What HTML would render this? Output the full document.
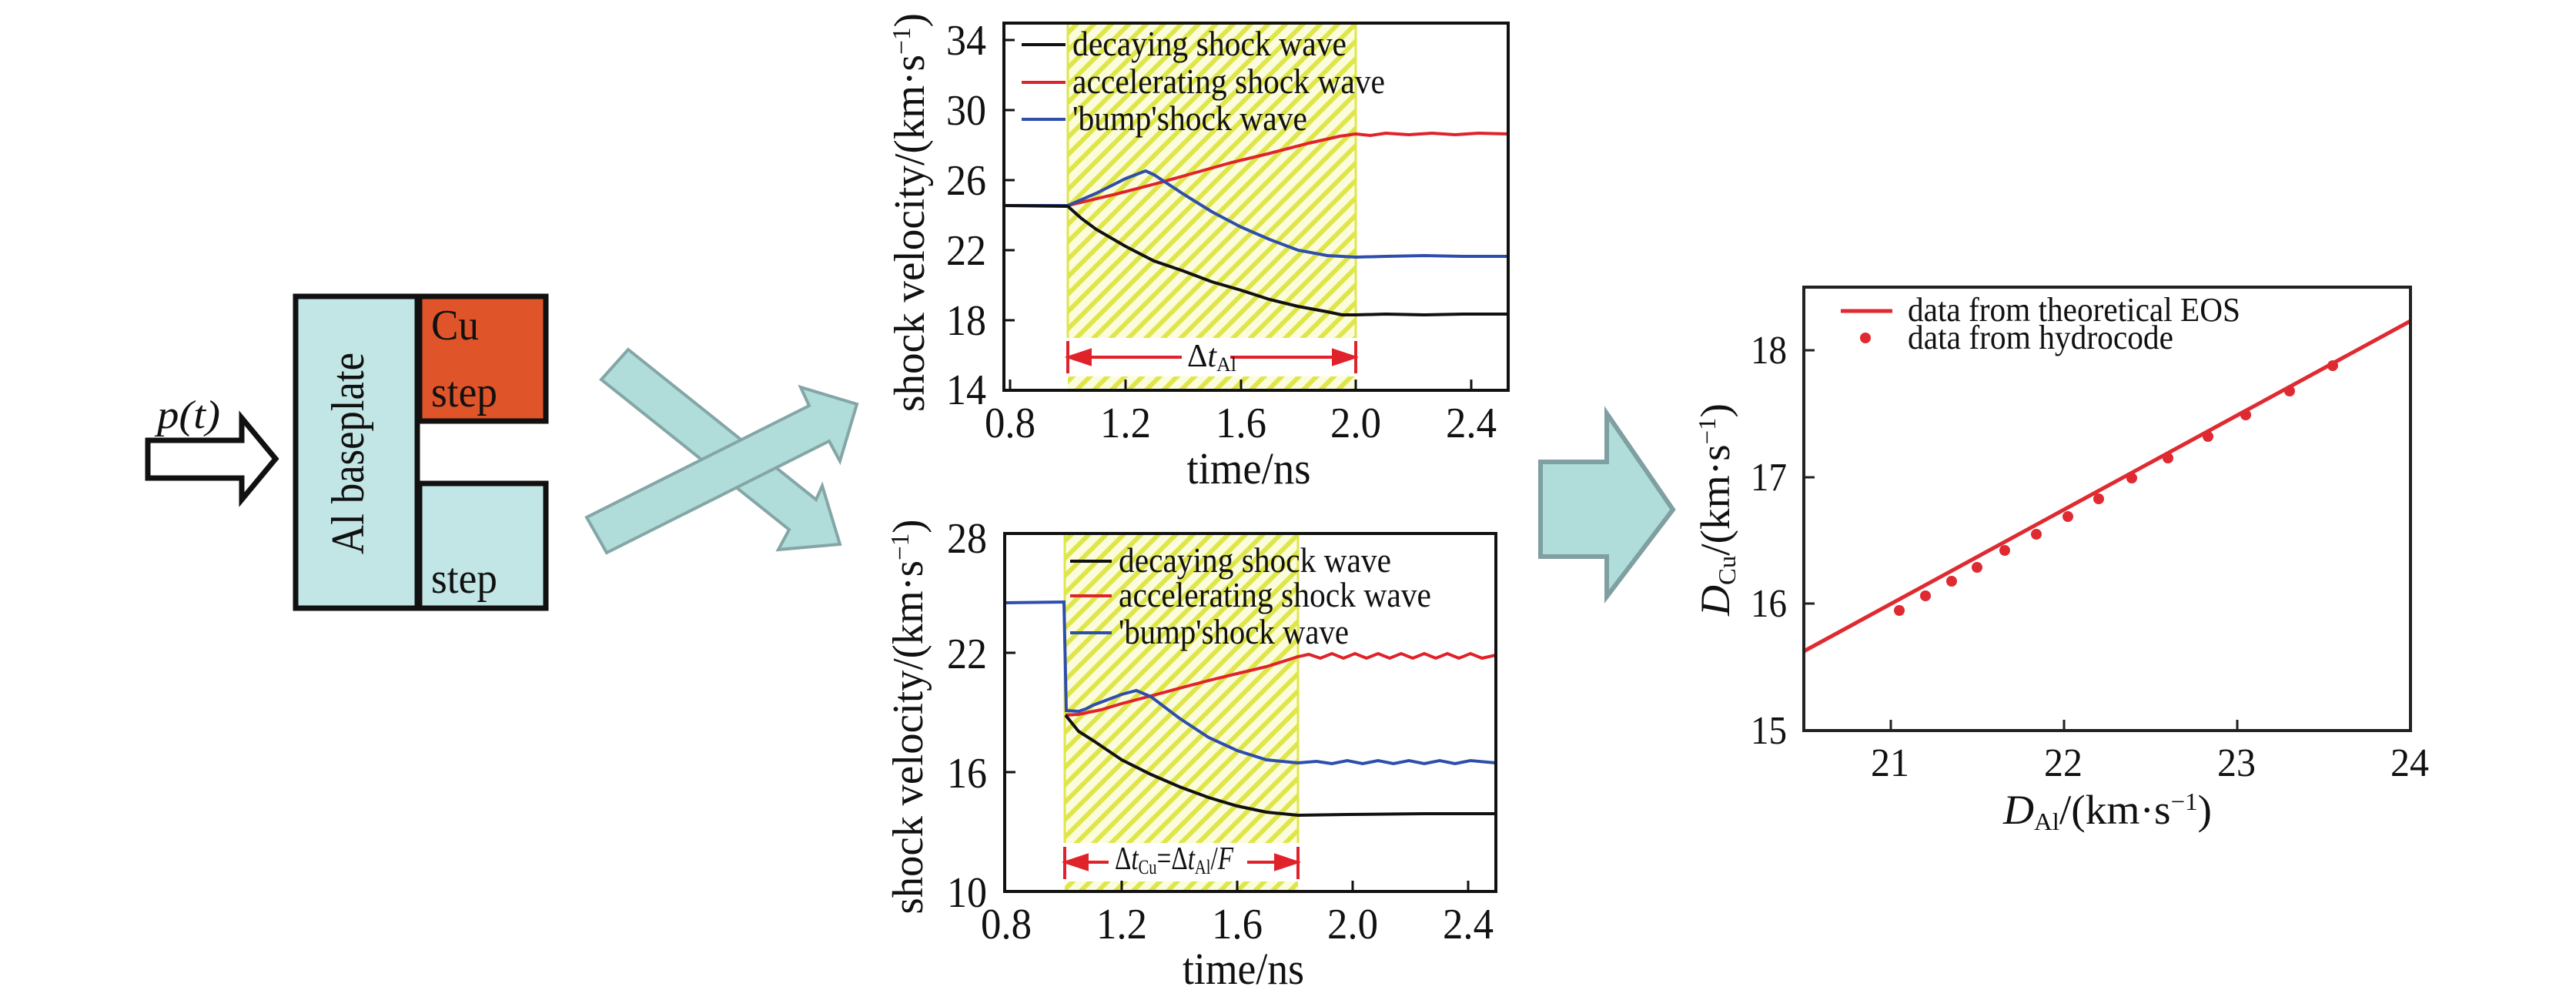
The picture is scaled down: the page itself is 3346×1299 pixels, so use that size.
<!DOCTYPE html>
<html><head><meta charset="utf-8"><style>
html,body{margin:0;padding:0;background:#fff;}
svg{display:block;}
text{font-family:"Liberation Serif","Times New Roman",serif;fill:#111;}
</style></head><body>
<svg width="3346" height="1299" viewBox="0 0 3346 1299" xmlns="http://www.w3.org/2000/svg">
<defs>
<pattern id="h" patternUnits="userSpaceOnUse" width="16" height="16" patternTransform="rotate(45)">
<rect width="16" height="16" fill="#fbfcdc"/>
<rect x="0" y="0" width="6" height="16" fill="#dfe64a"/>
</pattern>
</defs>

<!-- LEFT DIAGRAM -->
<rect x="384" y="385" width="158" height="405" fill="#c2e6e5" stroke="#111" stroke-width="7"/>
<rect x="545" y="385" width="164" height="162" fill="#df5529" stroke="#111" stroke-width="7"/>
<rect x="545" y="628" width="164" height="162" fill="#c2e6e5" stroke="#111" stroke-width="7"/>
<text transform="translate(472,589) rotate(-90)" font-size="60" text-anchor="middle" textLength="262" lengthAdjust="spacingAndGlyphs">Al baseplate</text>
<text x="560" y="441" font-size="56" textLength="62" lengthAdjust="spacingAndGlyphs">Cu</text>
<text x="560" y="528" font-size="56" textLength="86" lengthAdjust="spacingAndGlyphs">step</text>
<text x="560" y="770" font-size="56" textLength="86" lengthAdjust="spacingAndGlyphs">step</text>
<polygon points="192,572 314,572 314,543 358,596 314,649 314,621 192,621" fill="#fff" stroke="#111" stroke-width="7"/>
<text x="204" y="556" font-size="52" font-style="italic" textLength="82" lengthAdjust="spacingAndGlyphs">p(t)</text>

<!-- crossed arrows -->
<polygon points="816,454 1060,649 1068,631 1091,707 1011,714 1025,688 781,493" fill="#b0dcda" stroke="#84a6a6" stroke-width="4"/>
<polygon points="762,672 1051,527 1040,503 1113,525 1091,599 1077,573 788,718" fill="#b0dcda" stroke="#84a6a6" stroke-width="4"/>

<!-- big arrow -->
<polygon points="2001,600 2087,600 2087,537 2173,662 2087,775 2087,723 2001,723" fill="#b0dcda" stroke="#7f9fa0" stroke-width="6"/>

<!-- TOP CHART -->
<rect x="1387" y="30" width="374" height="409" fill="url(#h)"/>
<rect x="1387" y="489" width="374" height="18" fill="url(#h)"/>
<line x1="1387" y1="30" x2="1387" y2="439" stroke="#dfe64a" stroke-width="3"/>
<line x1="1761" y1="30" x2="1761" y2="439" stroke="#dfe64a" stroke-width="3"/>
<g stroke="#e0232a" stroke-width="4" fill="#e0232a">
<line x1="1387" y1="443" x2="1387" y2="485"/><line x1="1761" y1="443" x2="1761" y2="485"/>
<line x1="1410" y1="464" x2="1535" y2="464"/><line x1="1598" y1="464" x2="1738" y2="464"/>
<polygon points="1389,464 1416,455 1416,473"/><polygon points="1759,464 1732,455 1732,473"/>
</g>
<text x="1542" y="476" font-size="42" textLength="38" lengthAdjust="spacingAndGlyphs">Δ<tspan font-style="italic">t</tspan></text><text x="1580" y="482" font-size="26">Al</text>
<polyline fill="none" stroke="#e0232a" stroke-width="4" points="1304,267 1387,267 1450,252 1500,239 1550,225 1600,211 1650,199 1700,186 1740,177 1761,174 1780,176 1800,173 1830,175 1860,173 1890,175 1920,173 1959,174"/>
<polyline fill="none" stroke="#2e4eab" stroke-width="4" points="1304,267 1387,267 1424,251 1462,232 1488,222 1499,227 1537,252 1574,275 1612,295 1649,311 1686,325 1724,332 1761,334 1800,333 1850,332 1900,333 1959,333"/>
<polyline fill="none" stroke="#111" stroke-width="4" points="1304,267 1387,268 1405,284 1424,298 1462,320 1499,339 1537,352 1574,366 1612,377 1649,389 1686,398 1724,405 1743,409 1761,409 1800,408 1850,409 1900,408 1959,408"/>
<g stroke-width="4">
<line x1="1327" y1="58" x2="1384" y2="58" stroke="#111"/>
<line x1="1327" y1="107" x2="1384" y2="107" stroke="#e0232a"/>
<line x1="1327" y1="155" x2="1384" y2="155" stroke="#2e4eab"/>
</g>
<text x="1393" y="72" font-size="46" textLength="356" lengthAdjust="spacingAndGlyphs">decaying shock wave</text>
<text x="1393" y="121" font-size="46" textLength="406" lengthAdjust="spacingAndGlyphs">accelerating shock wave</text>
<text x="1393" y="169" font-size="46" textLength="305" lengthAdjust="spacingAndGlyphs">'bump'shock wave</text>
<rect x="1304" y="30" width="655" height="477" fill="none" stroke="#111" stroke-width="4"/>
<g stroke="#111" stroke-width="3">
<line x1="1312" y1="507" x2="1312" y2="493"/><line x1="1462" y1="507" x2="1462" y2="493"/><line x1="1612" y1="507" x2="1612" y2="493"/><line x1="1761" y1="507" x2="1761" y2="493"/><line x1="1911" y1="507" x2="1911" y2="493"/>
<line x1="1304" y1="52" x2="1318" y2="52"/><line x1="1304" y1="143" x2="1318" y2="143"/><line x1="1304" y1="234" x2="1318" y2="234"/><line x1="1304" y1="325" x2="1318" y2="325"/><line x1="1304" y1="416" x2="1318" y2="416"/>
</g>
<g font-size="56" text-anchor="end">
<text x="1281" y="71" textLength="52" lengthAdjust="spacingAndGlyphs">34</text>
<text x="1281" y="162" textLength="52" lengthAdjust="spacingAndGlyphs">30</text>
<text x="1281" y="253" textLength="52" lengthAdjust="spacingAndGlyphs">26</text>
<text x="1281" y="344" textLength="52" lengthAdjust="spacingAndGlyphs">22</text>
<text x="1281" y="435" textLength="52" lengthAdjust="spacingAndGlyphs">18</text>
<text x="1281" y="525" textLength="52" lengthAdjust="spacingAndGlyphs">14</text>
</g>
<g font-size="56" text-anchor="middle">
<text x="1312" y="568" textLength="66" lengthAdjust="spacingAndGlyphs">0.8</text><text x="1462" y="568" textLength="66" lengthAdjust="spacingAndGlyphs">1.2</text><text x="1612" y="568" textLength="66" lengthAdjust="spacingAndGlyphs">1.6</text><text x="1761" y="568" textLength="66" lengthAdjust="spacingAndGlyphs">2.0</text><text x="1911" y="568" textLength="66" lengthAdjust="spacingAndGlyphs">2.4</text>
</g>
<text x="1622" y="628" font-size="58" text-anchor="middle" textLength="161" lengthAdjust="spacingAndGlyphs">time/ns</text>
<text transform="translate(1200,276) rotate(-90)" font-size="56" text-anchor="middle" textLength="518" lengthAdjust="spacingAndGlyphs">shock velocity/(km·s<tspan dy="-18" font-size="34">−1</tspan><tspan dy="18">)</tspan></text>

<!-- BOTTOM CHART -->
<rect x="1383" y="695" width="303" height="400" fill="url(#h)"/>
<rect x="1383" y="1145" width="303" height="13" fill="url(#h)"/>
<line x1="1383" y1="695" x2="1383" y2="1095" stroke="#dfe64a" stroke-width="3"/>
<line x1="1686" y1="695" x2="1686" y2="1095" stroke="#dfe64a" stroke-width="3"/>
<g stroke="#e0232a" stroke-width="4" fill="#e0232a">
<line x1="1383" y1="1100" x2="1383" y2="1142"/><line x1="1686" y1="1100" x2="1686" y2="1142"/>
<line x1="1405" y1="1120" x2="1440" y2="1120"/><line x1="1620" y1="1120" x2="1664" y2="1120"/>
<polygon points="1385,1120 1412,1111 1412,1129"/><polygon points="1684,1120 1657,1111 1657,1129"/>
</g>
<text x="1448" y="1129" font-size="42" textLength="154" lengthAdjust="spacingAndGlyphs">Δ<tspan font-style="italic">t</tspan><tspan font-size="26" dy="6">Cu</tspan><tspan dy="-6">=Δ</tspan><tspan font-style="italic">t</tspan><tspan font-size="26" dy="6">Al</tspan><tspan dy="-6">/</tspan><tspan font-style="italic">F</tspan></text>
<polyline fill="none" stroke="#e0232a" stroke-width="4" points="1384,929 1401,928 1430,922 1457,914 1495,904 1532,894 1570,884 1607,875 1645,866 1686,853 1700,850 1715,855 1730,849 1745,855 1760,849 1775,855 1790,849 1805,855 1820,849 1835,855 1850,849 1865,855 1880,849 1895,855 1910,849 1925,855 1943,851"/>
<polyline fill="none" stroke="#2e4eab" stroke-width="4" points="1305,783 1382,782 1385,923 1401,924 1410,921 1420,916 1457,902 1476,897 1495,905 1532,933 1570,958 1607,975 1645,987 1686,991 1710,989 1730,992 1750,988 1770,992 1790,988 1810,992 1830,988 1850,992 1870,988 1890,992 1910,988 1943,991"/>
<polyline fill="none" stroke="#111" stroke-width="4" points="1384,929 1401,950 1420,962 1457,987 1495,1006 1532,1022 1570,1036 1607,1047 1645,1055 1686,1059 1750,1058 1850,1057 1943,1057"/>
<g stroke-width="4">
<line x1="1390" y1="729" x2="1444" y2="729" stroke="#111"/>
<line x1="1390" y1="774" x2="1444" y2="774" stroke="#e0232a"/>
<line x1="1390" y1="822" x2="1444" y2="822" stroke="#2e4eab"/>
</g>
<text x="1453" y="743" font-size="46" textLength="354" lengthAdjust="spacingAndGlyphs">decaying shock wave</text>
<text x="1453" y="788" font-size="46" textLength="406" lengthAdjust="spacingAndGlyphs">accelerating shock wave</text>
<text x="1453" y="836" font-size="46" textLength="299" lengthAdjust="spacingAndGlyphs">'bump'shock wave</text>
<rect x="1305" y="693" width="638" height="465" fill="none" stroke="#111" stroke-width="4"/>
<g stroke="#111" stroke-width="3">
<line x1="1457" y1="1158" x2="1457" y2="1144"/><line x1="1607" y1="1158" x2="1607" y2="1144"/><line x1="1757" y1="1158" x2="1757" y2="1144"/><line x1="1907" y1="1158" x2="1907" y2="1144"/>
<line x1="1305" y1="848" x2="1319" y2="848"/><line x1="1305" y1="1003" x2="1319" y2="1003"/>
</g>
<g font-size="56" text-anchor="end">
<text x="1282" y="718" textLength="52" lengthAdjust="spacingAndGlyphs">28</text>
<text x="1282" y="868" textLength="52" lengthAdjust="spacingAndGlyphs">22</text>
<text x="1282" y="1023" textLength="52" lengthAdjust="spacingAndGlyphs">16</text>
<text x="1282" y="1178" textLength="52" lengthAdjust="spacingAndGlyphs">10</text>
</g>
<g font-size="56" text-anchor="middle">
<text x="1307" y="1219" textLength="66" lengthAdjust="spacingAndGlyphs">0.8</text><text x="1457" y="1219" textLength="66" lengthAdjust="spacingAndGlyphs">1.2</text><text x="1607" y="1219" textLength="66" lengthAdjust="spacingAndGlyphs">1.6</text><text x="1757" y="1219" textLength="66" lengthAdjust="spacingAndGlyphs">2.0</text><text x="1907" y="1219" textLength="66" lengthAdjust="spacingAndGlyphs">2.4</text>
</g>
<text x="1615" y="1278" font-size="58" text-anchor="middle" textLength="158" lengthAdjust="spacingAndGlyphs">time/ns</text>
<text transform="translate(1198,931) rotate(-90)" font-size="56" text-anchor="middle" textLength="513" lengthAdjust="spacingAndGlyphs">shock velocity/(km·s<tspan dy="-18" font-size="34">−1</tspan><tspan dy="18">)</tspan></text>

<!-- RIGHT CHART -->
<line x1="2343" y1="846" x2="3131" y2="417" stroke="#de2a30" stroke-width="5"/>
<g fill="#de2a30">
<circle cx="2467" cy="793" r="7"/><circle cx="2501" cy="774" r="7"/><circle cx="2535" cy="755" r="7"/><circle cx="2568" cy="737" r="7"/><circle cx="2604" cy="715" r="7"/><circle cx="2645" cy="694" r="7"/><circle cx="2686" cy="671" r="7"/><circle cx="2726" cy="648" r="7"/><circle cx="2769" cy="621" r="7"/><circle cx="2816" cy="595" r="7"/><circle cx="2868" cy="567" r="7"/><circle cx="2917" cy="539" r="7"/><circle cx="2974" cy="508" r="7"/><circle cx="3030" cy="475" r="7"/>
<circle cx="2423" cy="439" r="7"/>
</g>
<line x1="2391" y1="404" x2="2458" y2="404" stroke="#de2a30" stroke-width="5"/>
<text x="2478" y="417" font-size="44" textLength="432" lengthAdjust="spacingAndGlyphs">data from theoretical EOS</text>
<text x="2478" y="453" font-size="44" textLength="345" lengthAdjust="spacingAndGlyphs">data from hydrocode</text>
<rect x="2343" y="373" width="788" height="576" fill="none" stroke="#222" stroke-width="4"/>
<g stroke="#222" stroke-width="3">
<line x1="2456" y1="949" x2="2456" y2="935"/><line x1="2681" y1="949" x2="2681" y2="935"/><line x1="2906" y1="949" x2="2906" y2="935"/>
<line x1="2343" y1="455" x2="2357" y2="455"/><line x1="2343" y1="620" x2="2357" y2="620"/><line x1="2343" y1="784" x2="2357" y2="784"/>
</g>
<g font-size="52" text-anchor="end">
<text x="2321" y="472" textLength="47" lengthAdjust="spacingAndGlyphs">18</text>
<text x="2321" y="637" textLength="47" lengthAdjust="spacingAndGlyphs">17</text>
<text x="2321" y="801" textLength="47" lengthAdjust="spacingAndGlyphs">16</text>
<text x="2321" y="966" textLength="47" lengthAdjust="spacingAndGlyphs">15</text>
</g>
<g font-size="52" text-anchor="middle">
<text x="2455" y="1008" textLength="50" lengthAdjust="spacingAndGlyphs">21</text><text x="2680" y="1008" textLength="50" lengthAdjust="spacingAndGlyphs">22</text><text x="2905" y="1008" textLength="50" lengthAdjust="spacingAndGlyphs">23</text><text x="3130" y="1008" textLength="50" lengthAdjust="spacingAndGlyphs">24</text>
</g>
<text x="2602" y="1070" font-size="54" textLength="271" lengthAdjust="spacingAndGlyphs"><tspan font-style="italic">D</tspan><tspan font-size="32" dy="8">Al</tspan><tspan dy="-8">/(km·s</tspan><tspan font-size="32" dy="-18">−1</tspan><tspan dy="18">)</tspan></text>
<text transform="translate(2246,662) rotate(-90)" font-size="54" text-anchor="middle" textLength="276" lengthAdjust="spacingAndGlyphs"><tspan font-style="italic">D</tspan><tspan font-size="32" dy="8">Cu</tspan><tspan dy="-8">/(km·s</tspan><tspan font-size="32" dy="-18">−1</tspan><tspan dy="18">)</tspan></text>
</svg>
</body></html>
